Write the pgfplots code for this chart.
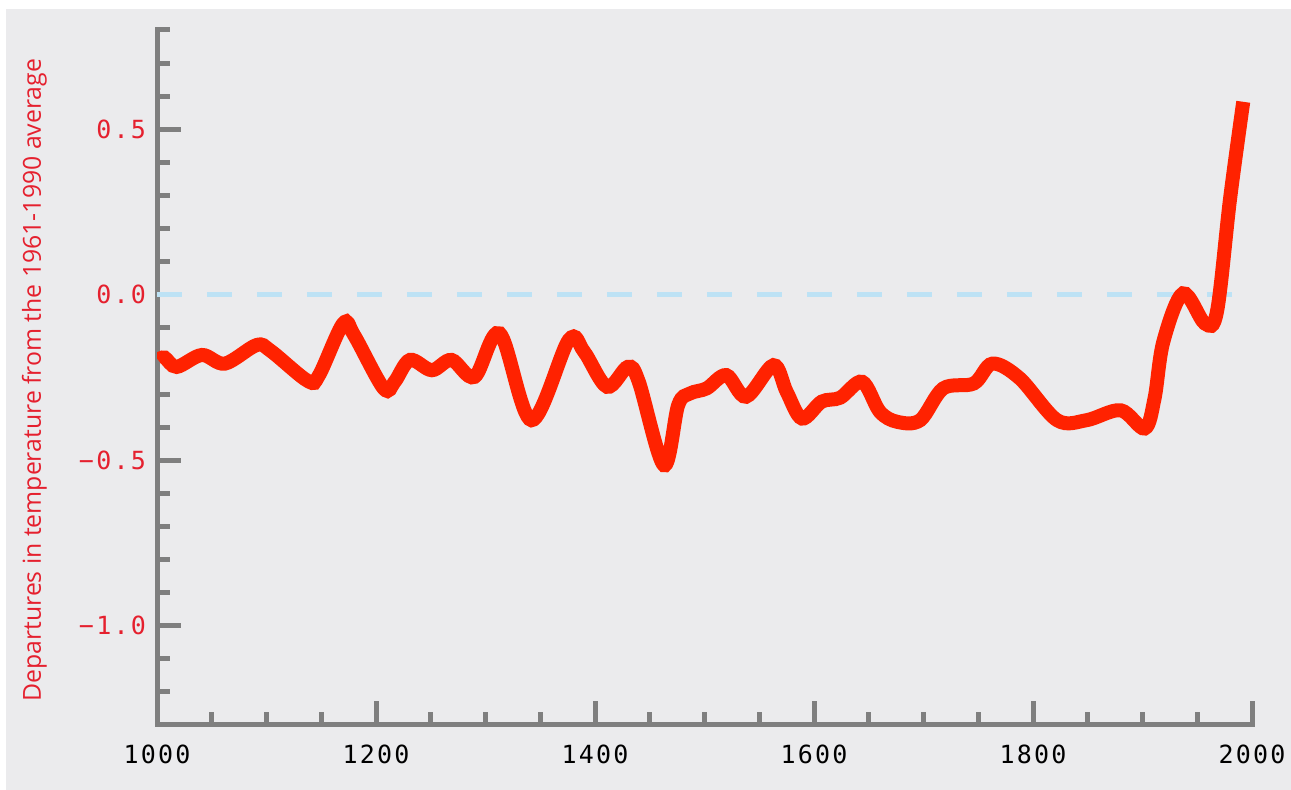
\documentclass[border=0pt]{standalone}
\usepackage{fontspec}
\setmainfont{Open Sans}
\newfontfamily\tickfont{DejaVu Sans Mono}[LetterSpace=9]
\newfontfamily\labelfont{Open Sans}
\usepackage{pgfplots}
\pgfplotsset{compat=1.18}
\definecolor{bg}{HTML}{EBEBED}
\definecolor{axgray}{HTML}{7F7F7F}
\definecolor{curve}{HTML}{FF2200}
\definecolor{zeroline}{HTML}{BDE2F5}
\definecolor{labred}{HTML}{E5202E}
\begin{document}
\begin{tikzpicture}[x=1pt,y=1pt]
\useasboundingbox (0,0) rectangle (645.5,395);
\fill[white] (0,0) rectangle (645.5,395);
\fill[bg] (3,0) rectangle (645.5,390.5);
\begin{axis}[
  at={(78.5pt,32.5pt)}, anchor=south west,
  scale only axis, width=547.5pt, height=347.5pt,
  xmin=1000, xmax=2000, ymin=-1.3, ymax=0.8,
  axis lines=left,
  axis line style={-, draw=axgray, line width=2.5pt, line cap=rect},
  tick align=inside,
  major tick length=12pt, minor tick length=6.5pt,
  every tick/.style={draw=axgray, line width=2.5pt},
  xtick={1000,1200,1400,1600,1800,2000},
  xticklabels={1000,1200,1400,1600,1800,2000},
  minor xtick={1050,1100,1150,1250,1300,1350,1450,1500,1550,1650,1700,1750,1850,1900,1950},
  ytick={-1,-0.5,0,0.5},
  yticklabels={−1.0,−0.5,0.0,0.5},
  minor ytick={-1.2,-1.1,-0.9,-0.8,-0.7,-0.6,-0.4,-0.3,-0.2,-0.1,0.1,0.2,0.3,0.4,0.6,0.7,0.8},
  xticklabel style={font=\tickfont\fontsize{12.5}{13}\selectfont, text=black, yshift=-6.5pt},
  yticklabel style={font=\tickfont\fontsize{12.5}{13}\selectfont, text=labred, xshift=-2pt},
  ylabel={Departures in temperature from the 1961-1990 average},
  ylabel style={at={(axis description cs:-0.112,0.496)}, anchor=center,
    font=\labelfont\fontsize{12.4}{14}\selectfont, text=labred},
]
\addplot[zeroline, line width=2.5pt, dash pattern=on 12.5pt off 12.5pt, forget plot]
  coordinates {(1000,0) (1994,0)};
\addplot[curve, line width=7pt, smooth, tension=0.55] coordinates {
(1001,-0.197) (1007,-0.190) (1018,-0.218) (1041,-0.182) (1062,-0.208)
(1091,-0.152) (1104,-0.170) (1138,-0.261) (1148,-0.243) (1170,-0.087)
(1180,-0.122) (1207,-0.283) (1217,-0.263) (1231,-0.197) (1251,-0.228)
(1269,-0.197) (1290,-0.248) (1313,-0.117) (1342,-0.379) (1376,-0.137)
(1390,-0.172) (1411,-0.278) (1430,-0.218) (1440,-0.263) (1463,-0.515)
(1476,-0.333) (1487,-0.298) (1502,-0.283) (1520,-0.243) (1538,-0.308)
(1563,-0.213) (1575,-0.293) (1589,-0.374) (1607,-0.323) (1624,-0.311)
(1644,-0.263) (1660,-0.353) (1676,-0.384) (1697,-0.379) (1718,-0.283)
(1746,-0.268) (1763,-0.208) (1788,-0.253) (1822,-0.379) (1849,-0.379)
(1880,-0.349) (1902,-0.404) (1911,-0.313) (1919,-0.142) (1937,0.004)
(1957,-0.087) (1968,-0.051) (1980,0.291) (1992,0.583)
};
\end{axis}
\end{tikzpicture}
\end{document}
